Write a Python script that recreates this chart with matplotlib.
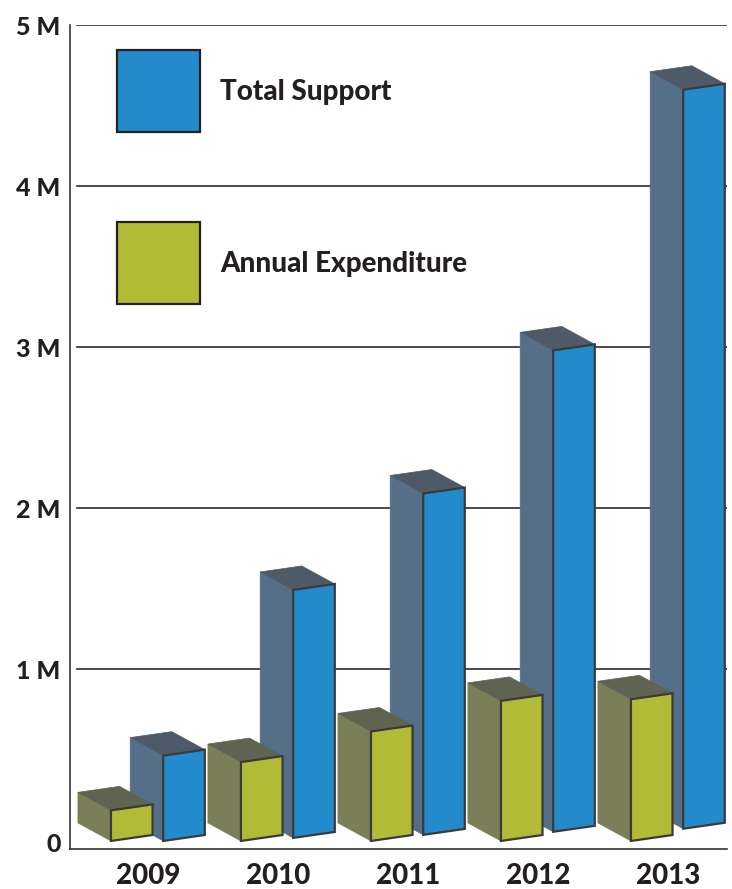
import matplotlib
matplotlib.use('Agg')
import matplotlib.pyplot as plt
from matplotlib.patches import Rectangle
from matplotlib.transforms import ScaledTranslation

plt.rcParams['font.family'] = ['Lato', 'DejaVu Sans']
plt.rcParams['font.weight'] = 'black'

# values in millions
years = ['2009', '2010', '2011', '2012', '2013']
total_support = [0.53, 1.54, 2.12, 2.99, 4.59]
annual_expenditure = [0.19, 0.49, 0.68, 0.87, 0.88]
yticks = [0, 1, 2, 3, 4, 5]
ytick_labels = ['0', '1 M', '2 M', '3 M', '4 M', '5 M']
series_names = ['Total Support', 'Annual Expenditure']

# fake 3d box geometry (data units)
bar_w = 0.32
green_off = -0.285
blue_off = 0.117
depth_x = -0.254
depth_y = 0.112
slant = 0.037
floor = -0.068
blue_rise = 0.019   # blue boxes sit a little higher each year (perspective)

blue = ('#238BCC', '#566F89', '#4E5A68')    # front, side, top
green = ('#B2BB35', '#7A7F57', '#5F6351')
edge = '#3A3A3A'
text_color = '#231F20'


def box(ax, x0, base, h, cols, z):
    front, side, top = cols
    x1 = x0 + bar_w
    fr = [(x0, base), (x1, base + slant), (x1, base + slant + h), (x0, base + h)]
    sd = [(x0, base), (x0, base + h), (x0 + depth_x, base + h + depth_y),
          (x0 + depth_x, base + depth_y)]
    tp = [(x0, base + h), (x1, base + slant + h),
          (x1 + depth_x, base + slant + h + depth_y), (x0 + depth_x, base + h + depth_y)]
    ax.fill(*zip(*sd), facecolor=side, edgecolor=side, lw=0.5, zorder=z)
    ax.fill(*zip(*tp), facecolor=top, edgecolor=top, lw=0.5, zorder=z)
    ax.fill(*zip(*fr), facecolor=front, edgecolor=edge, lw=1.6,
            joinstyle='miter', zorder=z + 0.5)


W, H = 732, 889
fig = plt.figure(figsize=(W / 100, H / 100), dpi=100)
ax = fig.add_axes([70 / W, 40 / H, 657 / W, 824 / H])
ax.set_xlim(-0.6, 4.454)
ax.set_ylim(-0.118, 5.0)

for v in yticks[1:]:
    ax.axhline(v, xmin=7 / 657, color='#2B2B2B', lw=1.2, zorder=1)

# draw right to left so the nearer (left) boxes cover the ones behind
z = 2
for i in range(len(years) - 1, -1, -1):
    box(ax, i + blue_off, floor + blue_rise * i, total_support[i], blue, z)
    box(ax, i + green_off, floor, annual_expenditure[i], green, z + 1)
    z += 2

for s in ['top', 'right']:
    ax.spines[s].set_visible(False)
for s in ['left', 'bottom']:
    ax.spines[s].set_color('#333333')
    ax.spines[s].set_linewidth(1.2)

ax.set_xticks(range(len(years)), years)
ax.set_yticks(yticks, ytick_labels)
ax.tick_params(axis='x', length=0, labelsize=20, pad=10, colors=text_color)
ax.tick_params(axis='y', length=0, labelsize=18, pad=6.7, colors=text_color)
for lbl in ax.get_xticklabels() + ax.get_yticklabels():
    lbl.set_fontweight('black')
zero = ax.yaxis.get_major_ticks()[0].label1
zero.set_transform(zero.get_transform() + ScaledTranslation(0, -0.12, fig.dpi_scale_trans))

# legend squares and labels
for k, cols in enumerate([blue, green]):
    top_px = 50 + k * 171.7
    fig.add_artist(Rectangle((116.7 / W, 1 - (top_px + 82) / H), 83.3 / W, 82 / H,
                             transform=fig.transFigure, facecolor=cols[0],
                             edgecolor='#222222', lw=1.6, joinstyle='miter'))
    fig.text(220 / W, 1 - (top_px + 50) / H, series_names[k], fontsize=20,
             fontweight='black', color=text_color, ha='left', va='baseline')

fig.savefig('out.png', dpi=100)
